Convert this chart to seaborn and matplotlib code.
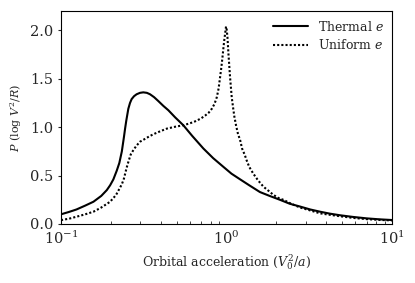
import matplotlib
matplotlib.use('Agg')
import matplotlib.pyplot as plt
import pandas as pd
import seaborn as sns

# values
thermal_x = [0.100, 0.112, 0.124, 0.140, 0.157, 0.175, 0.189, 0.198, 0.207, 0.217,
             0.225, 0.233, 0.240, 0.244, 0.248, 0.255, 0.261, 0.267, 0.276, 0.286,
             0.300, 0.314, 0.330, 0.345, 0.365, 0.387, 0.415, 0.445, 0.490, 0.548,
             0.620, 0.724, 0.830, 0.957, 1.07, 1.21, 1.37, 1.59, 1.82, 2.10,
             2.40, 2.78, 3.20, 3.67, 4.20, 4.85, 5.80, 7.03, 8.40, 10.0]
thermal_y = [0.100, 0.125, 0.15, 0.19, 0.23, 0.29, 0.35, 0.40, 0.46, 0.55,
             0.63, 0.75, 0.90, 0.99, 1.07, 1.19, 1.25, 1.29, 1.32, 1.34,
             1.355, 1.36, 1.355, 1.34, 1.31, 1.27, 1.22, 1.175, 1.10, 1.02,
             0.91, 0.78, 0.68, 0.59, 0.52, 0.46, 0.40, 0.33, 0.29, 0.25,
             0.21, 0.18, 0.15, 0.127, 0.107, 0.09, 0.073, 0.058, 0.048, 0.041]

uniform_x = [0.100, 0.112, 0.124, 0.140, 0.157, 0.175, 0.198, 0.215, 0.233, 0.240,
             0.249, 0.257, 0.264, 0.275, 0.286, 0.300, 0.322, 0.345, 0.370, 0.400,
             0.435, 0.490, 0.548, 0.600, 0.645, 0.700, 0.742, 0.780, 0.814, 0.845,
             0.873, 0.895, 0.914, 0.930, 0.944, 0.957, 0.970, 0.982, 0.992, 1.000,
             1.012, 1.026, 1.049, 1.074, 1.095, 1.114, 1.14, 1.17, 1.21, 1.24,
             1.29, 1.32, 1.37, 1.45, 1.55, 1.67, 1.80, 1.92, 2.05, 2.20,
             2.45, 2.78, 3.20, 3.67, 4.20, 4.85, 5.80, 7.03, 8.40, 10.0]
uniform_y = [0.04, 0.055, 0.075, 0.10, 0.127, 0.17, 0.23, 0.30, 0.41, 0.47,
             0.58, 0.66, 0.72, 0.77, 0.81, 0.85, 0.88, 0.91, 0.935, 0.96,
             0.985, 1.005, 1.02, 1.04, 1.06, 1.09, 1.12, 1.15, 1.19, 1.24,
             1.31, 1.40, 1.52, 1.62, 1.72, 1.82, 1.91, 1.98, 2.04, 2.02,
             1.93, 1.76, 1.52, 1.31, 1.20, 1.11, 1.02, 0.935, 0.86, 0.78,
             0.71, 0.66, 0.59, 0.52, 0.45, 0.385, 0.34, 0.30, 0.27, 0.25,
             0.21, 0.17, 0.14, 0.11, 0.095, 0.08, 0.063, 0.05, 0.042, 0.037]

labels = ['Thermal $e$', 'Uniform $e$']

df = pd.concat([
    pd.DataFrame({'x': thermal_x, 'y': thermal_y, 'model': labels[0]}),
    pd.DataFrame({'x': uniform_x, 'y': uniform_y, 'model': labels[1]}),
])

sns.set_style('white')
plt.rcParams['font.family'] = ['DejaVu Serif']
plt.rcParams['mathtext.fontset'] = 'dejavuserif'

fig = plt.figure(figsize=(4.15, 2.83), dpi=100)
ax = fig.add_axes([0.147, 0.2085, 0.798, 0.7525])

sns.lineplot(data=df, x='x', y='y', style='model', color='black',
             dashes={labels[0]: '', labels[1]: (1, 1)}, linewidth=1.5,
             sort=False, ax=ax)

ax.set_xscale('log')
ax.set_xlim(0.1, 10)
ax.set_ylim(0, 2.2)
ax.set_yticks([0.0, 0.5, 1.0, 1.5, 2.0])
ax.set_xlabel('Orbital acceleration ($V_0^2/a$)', fontsize=9)
ax.set_ylabel('$P$ (log $V^2/R$)', fontsize=8)
ax.tick_params(axis='x', which='both', direction='in', labelsize=10.5, pad=4)
ax.tick_params(axis='x', which='major', length=0)
ax.tick_params(axis='y', direction='out', length=2, labelsize=10.5, left=True)
ax.tick_params(axis='x', which='minor', length=2, bottom=True)
for s in ax.spines.values():
    s.set_color('black')
    s.set_linewidth(0.8)

leg = ax.legend(frameon=False, loc='upper right', fontsize=9, handlelength=2.8,
                labelspacing=0.35, borderaxespad=0.3)
leg.set_title(None)

fig.savefig('out.png', dpi=100)
